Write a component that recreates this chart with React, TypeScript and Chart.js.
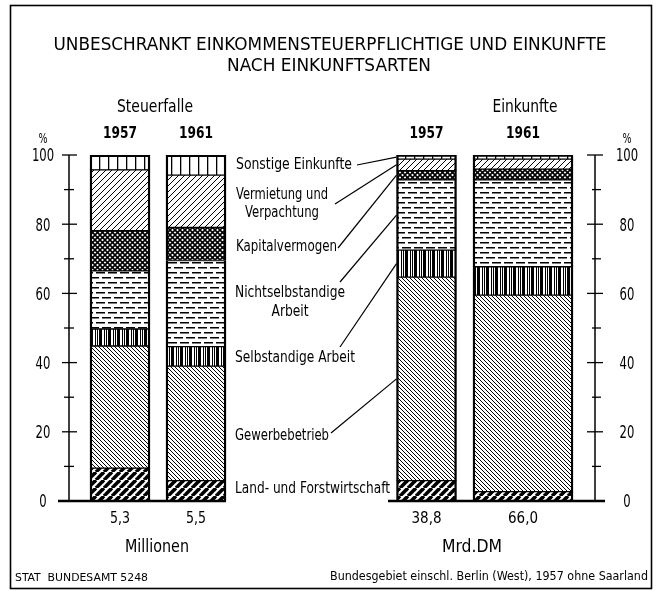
import { useEffect, useRef } from "react";
import { Chart, registerables } from "chart.js";

Chart.register(...registerables);

// ---------- data ----------
const categories = [
  "Land- und Forstwirtschaft",
  "Gewerbebetrieb",
  "Selbstandige Arbeit",
  "Nichtselbstandige Arbeit",
  "Kapitalvermogen",
  "Vermietung und Verpachtung",
  "Sonstige Einkunfte",
];
const groups = ["Steuerfalle", "Einkunfte"];
const years = ["1957", "1961", "1957", "1961"];
const totalLabels = ["5,3", "5,5", "38,8", "66,0"];
const unitLabels = ["Millionen", "Mrd.DM"];
// percent shares per column: Steuerfalle 1957, Steuerfalle 1961, Einkunfte 1957, Einkunfte 1961
const land = [9.5, 5.9, 5.9, 2.7];
const gewerbe = [35.3, 33.1, 58.8, 56.8];
const selbst = [4.9, 5.6, 7.8, 8.2];
const nichtselbst = [16.8, 24.9, 20.3, 25.1];
const kapital = [11.6, 9.6, 2.7, 3.1];
const vermietung = [17.6, 15.1, 3.3, 2.9];
const sonstige = [4.3, 5.8, 1.2, 1.2];
const yTicks = [0, 10, 20, 30, 40, 50, 60, 70, 80, 90, 100];
const yLabels = ["0", "20", "40", "60", "80", "100"];

const title1 = "UNBESCHRANKT EINKOMMENSTEUERPFLICHTIGE UND EINKUNFTE";
const title2 = "NACH EINKUNFTSARTEN";
const sourceLeft = "STAT  BUNDESAMT 5248";
const sourceRight = "Bundesgebiet einschl. Berlin (West), 1957 ohne Saarland";

// ---------- layout (positions / sizes) ----------
const barCenters = [120, 196, 426.5, 523];
const barWidths = [60, 60, 60, 100];
const FONT = '"Liberation Sans Narrow", "DejaVu Sans Condensed", "Liberation Sans", "DejaVu Sans", sans-serif';

// label layout: lines, anchor x, y, align, target width
const labelLayout = [
  { lines: ["Land- und Forstwirtschaft"], x: 235, y: [489], align: "left", w: [155], lead: null },
  { lines: ["Gewerbebetrieb"], x: 235, y: [436], align: "left", w: [94], lead: [331, 433] },
  { lines: ["Selbstandige Arbeit"], x: 235, y: [358], align: "left", w: [120], lead: [340, 347] },
  { lines: ["Nichtselbstandige", "Arbeit"], x: 235, y: [293, 312], align: "block", w: [110, 37], lead: [340, 282] },
  { lines: ["Kapitalvermogen"], x: 236, y: [247], align: "left", w: [101], lead: [338, 248] },
  { lines: ["Vermietung und", "Verpachtung"], x: 236, y: [195, 213], align: "block", w: [92, 74], lead: [335, 204] },
  { lines: ["Sonstige Einkunfte"], x: 236, y: [165], align: "left", w: [116], lead: [357, 165] },
];

function makePattern(kind: string): CanvasPattern | string {
  const c = document.createElement("canvas");
  const g = c.getContext("2d")!;
  const line = (x1: number, y1: number, x2: number, y2: number) => {
    g.beginPath();
    g.moveTo(x1, y1);
    g.lineTo(x2, y2);
    g.stroke();
  };
  g.strokeStyle = "#000";
  g.fillStyle = "#000";
  if (kind === "boldFwd") {
    const s = 8;
    c.width = s; c.height = s;
    g.fillStyle = "#fff"; g.fillRect(0, 0, s, s);
    g.lineWidth = 3.6;
    for (const k of [-s, 0, s]) line(k, s, k + s, 0);
  } else if (kind === "thinBack") {
    const s = 4;
    c.width = s; c.height = s;
    g.fillStyle = "#fff"; g.fillRect(0, 0, s, s);
    g.lineWidth = 1;
    for (const k of [-s, 0, s]) line(k, 0, k + s, s);
  } else if (kind === "vertMix") {
    c.width = 9; c.height = 2;
    g.fillStyle = "#fff"; g.fillRect(0, 0, 9, 2);
    g.fillStyle = "#000";
    g.fillRect(0, 0, 3, 2);
    g.fillRect(5, 0, 1, 2);
    g.fillRect(7, 0, 1, 2);
  } else if (kind === "hDash") {
    c.width = 12; c.height = 10;
    g.fillStyle = "#fff"; g.fillRect(0, 0, 12, 10);
    g.fillStyle = "#000";
    g.fillRect(0, 2, 9, 1.5);
    g.fillRect(6, 7, 9, 1.5);
    g.fillRect(0, 7, 3, 1.5);
  } else if (kind === "cross") {
    const s = 5;
    c.width = s; c.height = s;
    g.fillStyle = "#fff"; g.fillRect(0, 0, s, s);
    g.lineWidth = 1.6;
    for (const k of [-s, 0, s]) {
      line(k, s, k + s, 0);
      line(k, 0, k + s, s);
    }
  } else if (kind === "thinFwd") {
    const s = 6;
    c.width = s; c.height = s;
    g.fillStyle = "#fff"; g.fillRect(0, 0, s, s);
    g.lineWidth = 1;
    for (const k of [-s, 0, s]) line(k, s, k + s, 0);
  } else {
    c.width = 9; c.height = 2;
    g.fillStyle = "#fff"; g.fillRect(0, 0, 9, 2);
    g.fillStyle = "#000";
    g.fillRect(0, 0, 1.3, 2);
  }
  return g.createPattern(c, "repeat") || "#fff";
}

function drawText(
  ctx: CanvasRenderingContext2D,
  s: string,
  x: number,
  y: number,
  size: number,
  align: CanvasTextAlign,
  w?: number,
  bold?: boolean
) {
  ctx.save();
  ctx.font = `${bold ? "bold " : ""}${size}px ${FONT}`;
  ctx.textBaseline = "middle";
  ctx.textAlign = align;
  ctx.fillStyle = "#000";
  let k = 1;
  if (w) {
    const m = ctx.measureText(s).width;
    if (m > 0) k = w / m;
  }
  ctx.translate(x, y);
  ctx.scale(k, 1);
  ctx.fillText(s, 0, 0);
  ctx.restore();
}

const decor = {
  id: "decor",
  beforeDraw(chart: any) {
    const ctx = chart.ctx as CanvasRenderingContext2D;
    ctx.save();
    ctx.fillStyle = "#fff";
    ctx.fillRect(0, 0, chart.width, chart.height);
    ctx.restore();
  },
  afterDatasetsDraw(chart: any) {
    const ctx = chart.ctx as CanvasRenderingContext2D;
    const xs = chart.scales.x;
    const ys = chart.scales.y;
    ctx.save();
    ctx.strokeStyle = "#000";
    ctx.lineCap = "butt";

    // frame
    ctx.lineWidth = 1.6;
    ctx.strokeRect(10.5, 5.5, 641, 583);

    // titles
    drawText(ctx, title1, 330, 45, 18, "center", 553);
    drawText(ctx, title2, 329, 66, 18, "center", 204);
    drawText(ctx, groups[0], 155, 108, 17, "center", 76);
    drawText(ctx, groups[1], 525, 108, 17, "center", 65);

    // years and totals
    for (let j = 0; j < 4; j++) {
      const cx = xs.getPixelForValue(barCenters[j]);
      drawText(ctx, years[j], cx, 134, 16, "center", 34, true);
      drawText(ctx, totalLabels[j], cx, 519, 16, "center", j < 2 ? 20 : 30);
    }
    drawText(ctx, unitLabels[0], 157, 548, 17, "center", 64);
    drawText(ctx, unitLabels[1], 472, 548, 17, "center", 60);

    // axes
    const y0 = ys.getPixelForValue(0);
    const y100 = ys.getPixelForValue(100);
    const axes = [
      { x: 69, maj: [62, 77], min: [64, 74], lab: 43 },
      { x: 595, maj: [587, 603], min: [592, 601], lab: 627 },
    ];
    for (const a of axes) {
      ctx.lineWidth = 1.5;
      ctx.beginPath();
      ctx.moveTo(a.x, y100);
      ctx.lineTo(a.x, y0);
      ctx.stroke();
      for (const t of yTicks) {
        const py = ys.getPixelForValue(t);
        const r = t % 20 === 0 ? a.maj : a.min;
        ctx.lineWidth = 1.3;
        ctx.beginPath();
        ctx.moveTo(r[0], py);
        ctx.lineTo(r[1], py);
        ctx.stroke();
      }
      for (const l of yLabels) {
        const py = ys.getPixelForValue(Number(l));
        drawText(ctx, l, a.lab, py + 2, 17, "center", l.length * 7.4);
      }
      drawText(ctx, "%", a.lab, 139, 14, "center", 9);
    }

    // baselines
    ctx.lineWidth = 2.6;
    ctx.beginPath();
    ctx.moveTo(58, y0);
    ctx.lineTo(xs.getPixelForValue(barCenters[1]) + barWidths[1] / 2, y0);
    ctx.moveTo(388, y0);
    ctx.lineTo(605, y0);
    ctx.stroke();

    // labels and leader lines
    const series = [land, gewerbe, selbst, nichtselbst, kapital, vermietung, sonstige];
    const barLeft = xs.getPixelForValue(barCenters[2]) - barWidths[2] / 2;
    for (let c = 0; c < labelLayout.length; c++) {
      const L = labelLayout[c];
      if (L.align === "block") {
        const cx = L.x + L.w[0] / 2;
        L.lines.forEach((s, i) => drawText(ctx, s, cx, L.y[i], 16, "center", L.w[i]));
      } else {
        L.lines.forEach((s, i) => drawText(ctx, s, L.x, L.y[i], 16, "left", L.w[i]));
      }
      if (L.lead) {
        let base = 0;
        for (let k = 0; k < c; k++) base += series[k][2];
        const mid = base + series[c][2] / 2;
        ctx.lineWidth = 1.2;
        ctx.beginPath();
        ctx.moveTo(L.lead[0], L.lead[1]);
        ctx.lineTo(barLeft, ys.getPixelForValue(mid));
        ctx.stroke();
      }
    }

    // footer
    drawText(ctx, sourceLeft, 15, 578, 11, "left", 133);
    drawText(ctx, sourceRight, 648, 577, 13, "right", 318);
    ctx.restore();
  },
};

export default function App() {
  const ref = useRef<HTMLCanvasElement | null>(null);

  useEffect(() => {
    document.body.style.margin = "0";
    const canvas = ref.current;
    if (!canvas) return;
    const patterns = [
      makePattern("boldFwd"),
      makePattern("thinBack"),
      makePattern("vertMix"),
      makePattern("hDash"),
      makePattern("cross"),
      makePattern("thinFwd"),
      makePattern("vert"),
    ];
    const series = [land, gewerbe, selbst, nichtselbst, kapital, vermietung, sonstige];
    const datasets: any[] = [];
    for (let c = 0; c < series.length; c++) {
      for (let j = 0; j < barCenters.length; j++) {
        let base = 0;
        for (let k = 0; k < c; k++) base += series[k][j];
        datasets.push({
          label: categories[c],
          data: [{ x: barCenters[j], y: [base, base + series[c][j]] }],
          backgroundColor: patterns[c],
          borderColor: "#000",
          borderWidth: {
            left: 2.4,
            right: 2.4,
            top: c === series.length - 1 ? 2.4 : 1,
            bottom: c === 0 ? 0 : 1,
          },
          borderSkipped: false,
          barThickness: barWidths[j],
          grouped: false,
        });
      }
    }
    const chart = new Chart(canvas, {
      type: "bar",
      data: { datasets },
      options: {
        animation: false,
        responsive: false,
        devicePixelRatio: 1,
        events: [],
        layout: { padding: { top: 155, bottom: 90, left: 0, right: 0 } },
        plugins: { legend: { display: false }, tooltip: { enabled: false } },
        scales: {
          x: { type: "linear", min: 0, max: 659, display: false, offset: false },
          y: { type: "linear", min: 0, max: 100, display: false },
        },
      },
      plugins: [decor],
    } as any);
    return () => chart.destroy();
  }, []);

  return (
    <canvas ref={ref} width={659} height={591} style={{ display: "block", width: 659, height: 591 }} />
  );
}
